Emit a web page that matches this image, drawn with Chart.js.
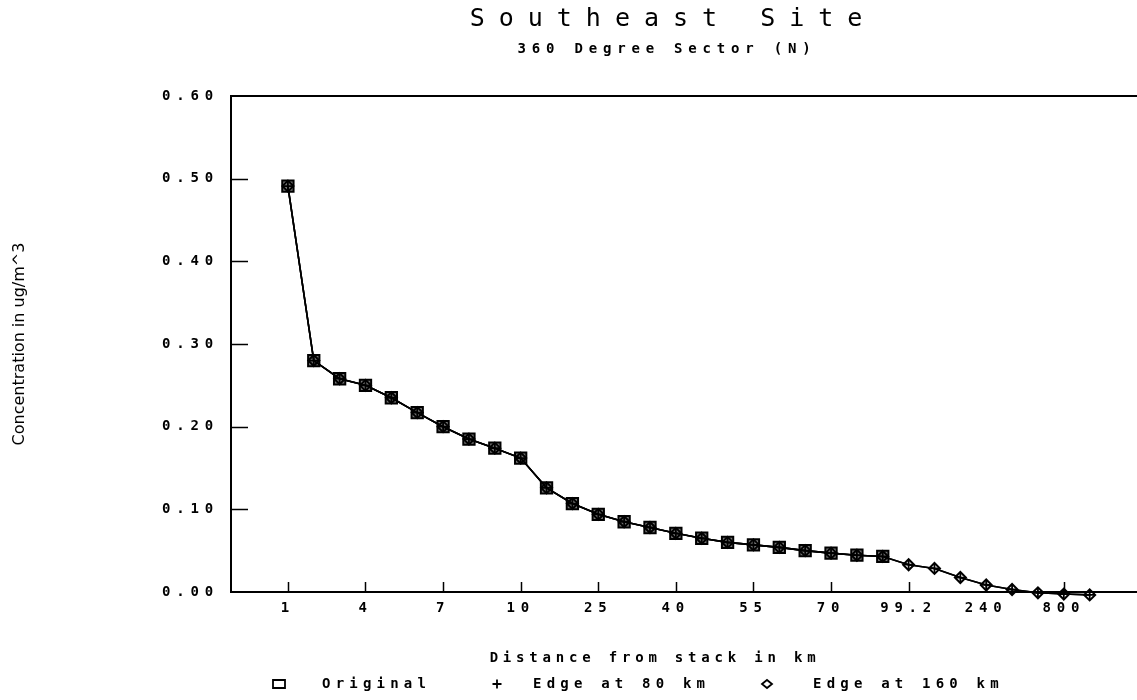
<!DOCTYPE html>
<html>
<head>
<meta charset="utf-8">
<title>Southeast Site</title>
<script src="https://cdn.jsdelivr.net/npm/chart.js@4.4.1/dist/chart.umd.min.js"></script>
<style>
  html, body { margin: 0; padding: 0; background: #fff; overflow: hidden; }
  #wrap { width: 1137px; height: 700px; position: relative; }
  #chart { display: block; }
</style>
</head>
<body>
<div id="wrap"><canvas id="chart"></canvas></div>
<script>
// Distance from stack (km), one entry per plotted station
const distances = ['1', '2', '3', '4', '5', '6', '7', '8', '9', '10',
  '15', '20', '25', '30', '35', '40', '45', '50', '55', '60', '65', '70', '75', '80',
  '99.2', '120', '160', '240', '400', '600', '800', '1000'];

// which distances get a tick label on the x axis
const labelledStations = [0, 3, 6, 9, 12, 15, 18, 21, 24, 27, 30];

// concentrations in ug/m^3
const originalConc = [0.491, 0.280, 0.258, 0.250, 0.235, 0.217, 0.200, 0.185, 0.174, 0.162,
  0.126, 0.107, 0.094, 0.085, 0.078, 0.071, 0.065, 0.060, 0.057, 0.054, 0.050, 0.047, 0.0445, 0.043];

const edge80Conc = [0.491, 0.280, 0.258, 0.250, 0.235, 0.217, 0.200, 0.185, 0.174, 0.162,
  0.126, 0.107, 0.094, 0.085, 0.078, 0.071, 0.065, 0.060, 0.057, 0.054, 0.050, 0.047, 0.0445, 0.043,
  0.033, 0.0285, 0.0175, 0.0085, 0.003, -0.001, -0.0025, -0.0035];

const edge160Conc = [0.491, 0.280, 0.258, 0.250, 0.235, 0.217, 0.200, 0.185, 0.174, 0.162,
  0.126, 0.107, 0.094, 0.085, 0.078, 0.071, 0.065, 0.060, 0.057, 0.054, 0.050, 0.047, 0.0445, 0.043,
  0.033, 0.0285, 0.0175, 0.0085, 0.003, -0.001, -0.0025, -0.0035];

const yTickStep = 0.1;
const yMax = 0.6;

const MONO = "'DejaVu Sans Mono', 'Liberation Mono', monospace";
const TEXT_SPACING = '5.8px';

function points(values) {
  return values.map((v, i) => ({ x: i, y: v }));
}

// plotter style text: wide letter spacing everywhere, wider for the title,
// none for the y axis title; dx nudges a centred text sideways
function restyle(obj, fn, spacing, dx) {
  if (!obj || obj['_ls_' + fn]) return;
  const orig = obj[fn];
  obj[fn] = function () {
    const ctx = this.ctx;
    const prev = ctx.letterSpacing;
    ctx.save();
    ctx.translate(dx || 0, 0);
    ctx.letterSpacing = spacing;
    const r = orig.apply(this, arguments);
    ctx.restore();
    ctx.letterSpacing = prev;
    return r;
  };
  obj['_ls_' + fn] = true;
}

const plotterText = {
  id: 'plotterText',
  beforeLayout(chart) {
    chart.ctx.letterSpacing = TEXT_SPACING;
  },
  beforeDraw(chart) {
    chart.ctx.letterSpacing = TEXT_SPACING;
    const tb = chart.titleBlock;
    restyle(tb, 'draw', '14px', -11);
    chart.boxes.forEach(b => {
      if (tb && b !== tb && b.constructor === tb.constructor) restyle(b, 'draw', TEXT_SPACING, -17);
    });
    restyle(chart.scales.x, 'drawTitle', '4.8px', -29);
    restyle(chart.scales.y, 'drawTitle', '0px', 0);
  }
};

// tick marks pointing into the plot
const inwardTicks = {
  id: 'inwardTicks',
  afterDatasetsDraw(chart) {
    const { ctx, chartArea: a, scales: { x, y } } = chart;
    ctx.save();
    ctx.strokeStyle = '#000';
    ctx.lineWidth = 1.5;
    ctx.beginPath();
    y.ticks.forEach(t => {
      if (t.value <= 0 || t.value >= yMax - 1e-9) return;
      const py = Math.round(y.getPixelForValue(t.value)) + 0.5;
      ctx.moveTo(a.left, py);
      ctx.lineTo(a.left + 17, py);
    });
    x.ticks.forEach(t => {
      const px = Math.round(x.getPixelForValue(t.value)) + 0.5;
      ctx.moveTo(px, a.bottom);
      ctx.lineTo(px, a.bottom - 10);
    });
    ctx.stroke();
    ctx.restore();
  }
};

// legend row under the x axis title
const legendSpots = [{ marker: 279, text: 322 }, { marker: 497, text: 533 }, { marker: 767, text: 813 }];
const LEGEND_Y = 684;

const legendRow = {
  id: 'legendRow',
  afterDraw(chart) {
    const ctx = chart.ctx;
    ctx.save();
    ctx.letterSpacing = '5.2px';
    ctx.strokeStyle = '#000';
    ctx.fillStyle = '#000';
    ctx.lineWidth = 1.8;
    ctx.font = 'bold 14px ' + MONO;
    ctx.textBaseline = 'middle';
    ctx.textAlign = 'left';
    chart.data.datasets.forEach((ds, i) => {
      const spot = legendSpots[i];
      const mx = spot.marker, my = LEGEND_Y;
      ctx.beginPath();
      if (ds.pointStyle === 'rect') {
        ctx.rect(mx - 6, my - 4, 12, 8);
      } else if (ds.pointStyle === 'cross') {
        ctx.moveTo(mx - 4.5, my); ctx.lineTo(mx + 4.5, my);
        ctx.moveTo(mx, my - 4.5); ctx.lineTo(mx, my + 4.5);
      } else {
        ctx.moveTo(mx - 5, my); ctx.lineTo(mx, my - 4);
        ctx.lineTo(mx + 5, my); ctx.lineTo(mx, my + 4);
        ctx.closePath();
      }
      ctx.stroke();
      ctx.fillText(ds.label, spot.text, my);
    });
    ctx.restore();
  }
};

Chart.defaults.color = '#000';
Chart.defaults.font.family = MONO;

new Chart(document.getElementById('chart'), {
  type: 'line',
  data: {
    datasets: [
      {
        label: 'Original',
        data: points(originalConc),
        pointStyle: 'rect',
        pointRadius: 8,
        pointBorderWidth: 2,
        pointBackgroundColor: '#777',
        borderColor: '#000',
        pointBorderColor: '#000',
        borderWidth: 1.6,
        order: 3,
        clip: false
      },
      {
        label: 'Edge at 80 km',
        data: points(edge80Conc),
        pointStyle: 'cross',
        pointRadius: 5,
        pointBorderWidth: 1.8,
        borderColor: '#000',
        pointBorderColor: '#000',
        borderWidth: 1.6,
        order: 2,
        clip: false
      },
      {
        label: 'Edge at 160 km',
        data: points(edge160Conc),
        pointStyle: 'rectRot',
        pointRadius: 5.5,
        pointBorderWidth: 2,
        pointBackgroundColor: 'rgba(0,0,0,0)',
        borderColor: '#000',
        pointBorderColor: '#000',
        borderWidth: 1.6,
        order: 1,
        clip: false
      }
    ]
  },
  options: {
    responsive: true,
    maintainAspectRatio: false,
    devicePixelRatio: 1,
    animation: false,
    layout: { padding: 0, autoPadding: false },
    elements: { line: { tension: 0 } },
    plugins: {
      legend: { display: false },
      tooltip: { enabled: false },
      title: {
        display: true,
        text: 'Southeast Site',
        fullSize: false,
        color: '#000',
        font: { family: MONO, size: 25, weight: 'normal' },
        padding: { top: 4, bottom: 7 }
      },
      subtitle: {
        display: true,
        text: '360 Degree Sector (N)',
        fullSize: false,
        color: '#000',
        font: { family: MONO, size: 14, weight: 'bold' },
        padding: { top: 0, bottom: 38.2 }
      }
    },
    scales: {
      x: {
        type: 'linear',
        min: -2.2,
        max: 32.83,
        afterFit(scale) {
          scale.height = 108;
          scale.paddingLeft = 0;
          scale.paddingRight = 0;
        },
        afterBuildTicks(scale) {
          scale.ticks = labelledStations.map(i => ({ value: i }));
        },
        ticks: {
          autoSkip: false,
          maxRotation: 0,
          minRotation: 0,
          padding: 8,
          color: '#000',
          font: { family: MONO, size: 14, weight: 'bold' },
          callback: (value) => distances[value]
        },
        grid: { display: false, drawTicks: false },
        border: { display: true, color: '#000', width: 2 },
        title: {
          display: true,
          text: 'Distance from stack in km',
          color: '#000',
          font: { family: MONO, size: 14, weight: 'bold' },
          padding: { top: 0, bottom: 33.6 }
        }
      },
      y: {
        min: 0,
        max: yMax,
        afterFit(scale) {
          scale.width = 231;
          scale.paddingTop = 0;
          scale.paddingBottom = 0;
        },
        ticks: {
          stepSize: yTickStep,
          padding: 12,
          color: '#000',
          font: { family: MONO, size: 14, weight: 'bold' },
          callback: (value) => value.toFixed(2)
        },
        grid: {
          drawTicks: false,
          lineWidth: 2,
          color: (ctx) => (ctx.tick && Math.abs(ctx.tick.value - yMax) < 1e-9) ? '#000' : 'rgba(0,0,0,0)'
        },
        border: { display: true, color: '#000', width: 2 },
        title: {
          display: true,
          text: 'Concentration in ug/m^3',
          color: '#000',
          font: { family: "'DejaVu Sans', sans-serif", size: 16, weight: 'normal' },
          padding: { top: 10.4, bottom: 0 }
        }
      }
    }
  },
  plugins: [plotterText, inwardTicks, legendRow]
});
</script>
</body>
</html>
